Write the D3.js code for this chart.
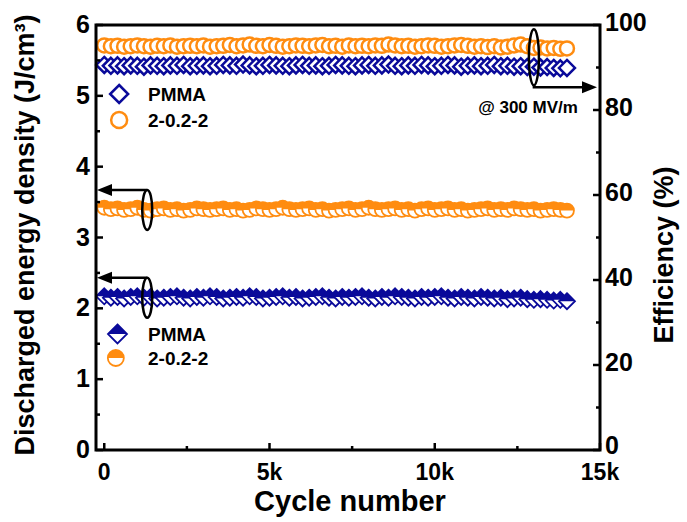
<!DOCTYPE html>
<html lang="en">

<head>
  <meta charset="UTF-8">
  <title>Cycling stability</title>
  <script src="https://d3js.org/d3.v7.min.js"></script>
  <style>
    body {
      margin: 0;
      background-color: #fff;
    }

    text {
      font-family: 'Liberation Sans', Arial, sans-serif;
      font-weight: bold;
    }
  </style>
</head>

<body>
  <script>
    // cycle numbers of the recorded points
    const cycles = [0, 200, 400, 600, 800, 1000, 1200, 1400, 1600, 1800,
      2000, 2200, 2400, 2600, 2800, 3000, 3200, 3400, 3600, 3800,
      4000, 4200, 4400, 4600, 4800, 5000, 5200, 5400, 5600, 5800,
      6000, 6200, 6400, 6600, 6800, 7000, 7200, 7400, 7600, 7800,
      8000, 8200, 8400, 8600, 8800, 9000, 9200, 9400, 9600, 9800,
      10000, 10200, 10400, 10600, 10800, 11000, 11200, 11400, 11600, 11800,
      12000, 12200, 12400, 12600, 12800, 13000, 13200, 13400, 13600, 13800, 14000];

    // efficiency (%), right axis
    const effPMMA = [90.6, 90.4, 90.5, 90.3, 90.5, 90.4, 90.2, 90.5, 90.4, 90.3,
      90.5, 90.4, 90.6, 90.3, 90.4, 90.5, 90.3, 90.4, 90.6, 90.5,
      90.4, 90.7, 90.5, 90.3, 90.4, 90.6, 90.5, 90.4, 90.3, 90.5,
      90.6, 90.4, 90.5, 90.3, 90.4, 90.6, 90.5, 90.4, 90.3, 90.5,
      90.6, 90.4, 90.5, 90.7, 90.4, 90.3, 90.5, 90.4, 90.6, 90.5,
      90.3, 90.4, 90.6, 90.5, 90.2, 90.4, 90.5, 90.3, 90.4, 90.6,
      90.3, 90.4, 90.2, 90.3, 90.1, 90.2, 90.0, 90.1, 89.9, 89.8, 89.9];
    const effComp = [95.2, 95.0, 95.1, 94.9, 95.0, 95.2, 95.0, 94.9, 95.1, 95.0,
      95.2, 94.9, 95.0, 95.1, 95.0, 95.2, 94.9, 95.0, 95.1, 95.3,
      95.0, 95.2, 95.4, 95.1, 95.0, 95.3, 95.1, 94.9, 95.0, 95.2,
      95.1, 95.0, 95.2, 95.3, 95.0, 95.1, 94.9, 95.2, 95.0, 95.1,
      95.0, 95.2, 95.1, 95.4, 95.2, 95.0, 95.1, 94.9, 95.0, 95.2,
      95.1, 94.9, 95.0, 95.2, 95.3, 95.1, 94.9, 95.0, 94.8, 95.0,
      94.7, 94.9, 95.2, 95.4, 95.0, 94.6, 94.7, 94.5, 94.6, 94.4, 94.5];

    // discharged energy density (J/cm3), left axis
    const udPMMA = [2.17, 2.15, 2.16, 2.14, 2.16, 2.17, 2.15, 2.16, 2.14, 2.15,
      2.16, 2.17, 2.15, 2.14, 2.16, 2.15, 2.17, 2.16, 2.14, 2.15,
      2.16, 2.15, 2.17, 2.16, 2.14, 2.15, 2.16, 2.17, 2.15, 2.16,
      2.14, 2.15, 2.16, 2.17, 2.15, 2.14, 2.16, 2.15, 2.16, 2.17,
      2.15, 2.14, 2.16, 2.15, 2.17, 2.16, 2.15, 2.14, 2.16, 2.15,
      2.16, 2.17, 2.15, 2.14, 2.16, 2.15, 2.14, 2.16, 2.15, 2.14,
      2.15, 2.13, 2.14, 2.15, 2.13, 2.12, 2.13, 2.12, 2.11, 2.12, 2.10];
    const udComp = [3.42, 3.40, 3.41, 3.39, 3.40, 3.42, 3.39, 3.38, 3.40, 3.41,
      3.39, 3.40, 3.38, 3.39, 3.41, 3.40, 3.39, 3.40, 3.41, 3.39,
      3.40, 3.38, 3.39, 3.41, 3.40, 3.39, 3.40, 3.42, 3.40, 3.39,
      3.40, 3.41, 3.39, 3.40, 3.38, 3.39, 3.40, 3.41, 3.39, 3.40,
      3.42, 3.40, 3.39, 3.40, 3.41, 3.39, 3.40, 3.38, 3.40, 3.41,
      3.39, 3.40, 3.41, 3.39, 3.40, 3.38, 3.39, 3.40, 3.41, 3.39,
      3.40, 3.39, 3.41, 3.40, 3.39, 3.40, 3.38, 3.39, 3.40, 3.39, 3.38];

    const xTicks = [0, 5000, 10000, 15000];
    const xTickLabels = ["0", "5k", "10k", "15k"];
    const yLeftTicks = [0, 1, 2, 3, 4, 5, 6];
    const yRightTicks = [0, 20, 40, 60, 80, 100];

    const navy = "#0a0a9a", orange = "#ff8c10";

    const width = 687, height = 522;
    const m = { left: 96, right: 600, top: 25, bottom: 450 };

    const svg = d3.select("body").append("svg")
      .attr("width", width)
      .attr("height", height);

    const x = d3.scaleLinear().domain([-250, 15000]).range([m.left, m.right]);
    const yL = d3.scaleLinear().domain([0, 6]).range([m.bottom, m.top]);
    const yR = d3.scaleLinear().domain([0, 100]).range([m.bottom, m.top]);

    // marker shapes
    const diamond = r => `M0,${-r}L${r},0L0,${r}L${-r},0Z`;
    const diamondTop = r => `M${-r},0L0,${-r}L${r},0Z`;
    const circleTop = r => `M${-r},0A${r},${r} 0 0 1 ${r},0Z`;

    function openDiamonds(g, xs, ys, yScale, r) {
      g.selectAll(null).data(xs).enter().append("path")
        .attr("transform", (d, i) => `translate(${x(d)},${yScale(ys[i])})`)
        .attr("d", diamond(r))
        .attr("fill", "white").attr("stroke", navy).attr("stroke-width", 2.5);
    }
    function openCircles(g, xs, ys, yScale, r) {
      g.selectAll(null).data(xs).enter().append("circle")
        .attr("cx", d => x(d)).attr("cy", (d, i) => yScale(ys[i])).attr("r", r)
        .attr("fill", "white").attr("stroke", orange).attr("stroke-width", 2.5);
    }
    function halfDiamonds(g, xs, ys, yScale, r) {
      const p = g.selectAll(null).data(xs).enter().append("g")
        .attr("transform", (d, i) => `translate(${x(d)},${yScale(ys[i])})`);
      p.append("path").attr("d", diamond(r)).attr("fill", "white");
      p.append("path").attr("d", diamondTop(r)).attr("fill", navy);
      p.append("path").attr("d", diamond(r)).attr("fill", "none")
        .attr("stroke", navy).attr("stroke-width", 1.8);
    }
    function halfCircles(g, xs, ys, yScale, r) {
      const p = g.selectAll(null).data(xs).enter().append("g")
        .attr("transform", (d, i) => `translate(${x(d)},${yScale(ys[i])})`);
      p.append("circle").attr("r", r).attr("fill", "white");
      p.append("path").attr("d", circleTop(r)).attr("fill", orange);
      p.append("circle").attr("r", r).attr("fill", "none")
        .attr("stroke", orange).attr("stroke-width", 1.8);
    }

    // data
    const plot = svg.append("g");
    openDiamonds(plot.append("g"), cycles, effPMMA, yR, 8);
    openCircles(plot.append("g"), cycles, effComp, yR, 7);
    halfCircles(plot.append("g"), cycles, udComp, yL, 7);
    halfDiamonds(plot.append("g"), cycles, udPMMA, yL, 8);

    // frame
    svg.append("rect")
      .attr("x", m.left).attr("y", m.top)
      .attr("width", m.right - m.left).attr("height", m.bottom - m.top)
      .attr("fill", "none").attr("stroke", "black").attr("stroke-width", 3);

    // ticks (inward)
    const ticks = svg.append("g").attr("stroke", "black").attr("stroke-width", 2.5);
    d3.range(0, 15001, 2500).forEach(v => {
      const len = v % 5000 === 0 ? 7 : 4;
      ticks.append("line").attr("x1", x(v)).attr("x2", x(v))
        .attr("y1", m.bottom).attr("y2", m.bottom - len);
    });
    d3.range(0, 6.01, 0.5).forEach(v => {
      const len = Math.abs(v - Math.round(v)) < 1e-6 ? 7 : 4;
      ticks.append("line").attr("x1", m.left).attr("x2", m.left + len)
        .attr("y1", yL(v)).attr("y2", yL(v));
    });
    d3.range(0, 100.1, 10).forEach(v => {
      const len = v % 20 === 0 ? 7 : 4;
      ticks.append("line").attr("x1", m.right).attr("x2", m.right - len)
        .attr("y1", yR(v)).attr("y2", yR(v));
    });

    // tick labels
    svg.selectAll(".xl").data(xTicks).enter().append("text")
      .attr("x", d => x(d)).attr("y", m.bottom + 30)
      .attr("text-anchor", "middle").attr("font-size", 23)
      .text((d, i) => xTickLabels[i]);
    svg.selectAll(".yl").data(yLeftTicks).enter().append("text")
      .attr("x", m.left - 6).attr("y", d => yL(d) + 8)
      .attr("text-anchor", "end").attr("font-size", 25)
      .text(d => d);
    svg.selectAll(".yr").data(yRightTicks).enter().append("text")
      .attr("x", m.right + 5).attr("y", d => yR(d) + (d === 0 ? 4 : 6))
      .attr("text-anchor", "start").attr("font-size", 25)
      .text(d => d);

    // axis titles
    svg.append("text")
      .attr("x", (m.left + m.right) / 2 + 2).attr("y", 511)
      .attr("text-anchor", "middle").attr("font-size", 29)
      .text("Cycle number");
    svg.append("text")
      .attr("transform", "translate(34,235) rotate(-90)")
      .attr("text-anchor", "middle").attr("font-size", 27)
      .text("Discharged energy density (J/cm³)");
    svg.append("text")
      .attr("transform", "translate(673,255) rotate(-90)")
      .attr("text-anchor", "middle").attr("font-size", 27)
      .text("Efficiency (%)");

    // legends
    const leg = svg.append("g");
    openDiamonds(leg.append("g"), [450], [yR.invert(94)], yR, 9);
    openCircles(leg.append("g"), [450], [yR.invert(120)], yR, 8);
    halfDiamonds(leg.append("g"), [400], [yL.invert(334)], yL, 9.5);
    halfCircles(leg.append("g"), [350], [yL.invert(358)], yL, 8);
    [["PMMA", 94], ["2-0.2-2", 120], ["PMMA", 334], ["2-0.2-2", 358]].forEach(([t, yy]) => {
      leg.append("text").attr("x", 148).attr("y", yy + 7)
        .attr("font-size", 19).text(t);
    });

    // annotations: ellipses with arrows
    const ann = svg.append("g").attr("stroke", "black").attr("stroke-width", 2.5).attr("fill", "none");
    function arrowHead(px, py, dir) {
      svg.append("path")
        .attr("d", `M${px},${py}L${px - dir * 15},${py - 6}L${px - dir * 15},${py + 6}Z`)
        .attr("fill", "black");
    }
    [[1300, udComp], [1300, udPMMA]].forEach(([c, arr]) => {
      const cx = x(c), cy = yL(arr[6]);
      ann.append("ellipse").attr("cx", cx).attr("cy", cy).attr("rx", 5).attr("ry", 20);
      ann.append("line").attr("x1", cx).attr("x2", m.left + 12)
        .attr("y1", cy - 20).attr("y2", cy - 20);
      arrowHead(m.left + 1, cy - 20, -1);
    });
    {
      const cx = x(13000), cy = (yR(effPMMA[65]) + yR(effComp[65])) / 2;
      ann.append("ellipse").attr("cx", cx).attr("cy", cy).attr("rx", 5).attr("ry", 28);
      ann.append("polyline")
        .attr("points", `${cx},${cy + 28} ${cx},${cy + 30} ${m.right - 16},${cy + 30}`);
      arrowHead(m.right - 3, cy + 30, 1);
    }
    svg.append("text")
      .attr("x", 528).attr("y", 113)
      .attr("text-anchor", "middle").attr("font-size", 17)
      .text("@ 300 MV/m");
  </script>
</body>

</html>
